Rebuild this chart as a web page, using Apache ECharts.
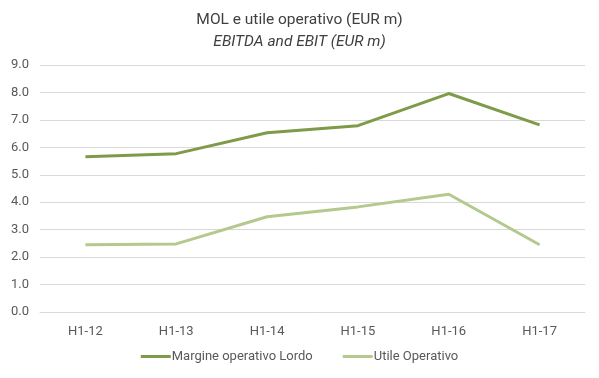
<!DOCTYPE html>
<html><head><meta charset="utf-8">
<script src="https://cdn.jsdelivr.net/npm/echarts@6/dist/echarts.min.js"></script>
<style>html,body{margin:0;padding:0;background:#fff}#c{width:599px;height:378px}</style>
</head><body><div id="c"></div>
<script>
const categories = ["H1-12","H1-13","H1-14","H1-15","H1-16","H1-17"];
const mol = [5.66, 5.77, 6.53, 6.79, 7.96, 6.82];
const ebit = [2.45, 2.48, 3.47, 3.83, 4.29, 2.45];
const seriesNames = ["Margine operativo Lordo", "Utile Operativo"];
const font = "Roboto, 'Liberation Sans', sans-serif";
const chart = echarts.init(document.getElementById('c'));
chart.setOption({
  animation:false,
  title:[
    {text:"MOL e utile operativo (EUR m)", left:'center', top:7, textStyle:{fontSize:15.5, fontWeight:'normal', color:'#404040', fontFamily:font}},
    {text:"EBITDA and EBIT (EUR m)", left:'center', top:29, textStyle:{fontSize:15.5, fontWeight:'normal', fontStyle:'italic', color:'#404040', fontFamily:font}}
  ],
  legend:{bottom:10, left:'center', itemWidth:30, itemHeight:3, itemGap:30, icon:'rect',
    textStyle:{fontSize:13, color:'#595959', fontFamily:font, padding:[0,0,0,-4]},
    data:seriesNames},
  grid:{left:40, right:14, top:65, bottom:66},
  xAxis:{type:'category', data:categories, boundaryGap:true,
    axisLine:{lineStyle:{color:'#d9d9d9'}}, axisTick:{show:false},
    axisLabel:{color:'#595959', fontSize:13, fontFamily:font, margin:13}},
  yAxis:{type:'value', min:0, max:9, interval:1,
    axisLine:{show:false}, axisTick:{show:false},
    splitLine:{lineStyle:{color:'#d9d9d9'}},
    axisLabel:{color:'#595959', fontSize:13, fontFamily:font, formatter:v=>v.toFixed(1), margin:11}},
  series:[
    {name:seriesNames[0], type:'line', data:mol, symbol:'none', lineStyle:{width:3, color:'#7f9a48'}, itemStyle:{color:'#7f9a48'}},
    {name:seriesNames[1], type:'line', data:ebit, symbol:'none', lineStyle:{width:3, color:'#b4c98e'}, itemStyle:{color:'#b4c98e'}}
  ]
});
</script></body></html>
